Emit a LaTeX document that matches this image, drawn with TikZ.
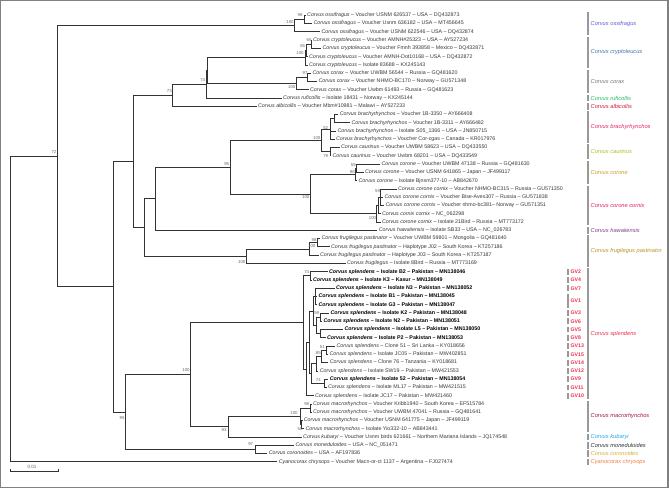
\documentclass[tikz,border=0pt]{standalone}
\usepackage{fontspec}
\setmainfont{Liberation Sans}
\usetikzlibrary{calc}
\definecolor{ossC}{RGB}{96,92,224}
\definecolor{cryC}{RGB}{70,116,176}
\definecolor{corC}{RGB}{120,120,120}
\definecolor{rufC}{RGB}{40,188,100}
\definecolor{albC}{RGB}{208,30,56}
\definecolor{braC}{RGB}{232,36,100}
\definecolor{cauC}{RGB}{160,196,36}
\definecolor{croC}{RGB}{200,160,32}
\definecolor{cxC}{RGB}{232,32,104}
\definecolor{hawC}{RGB}{128,64,144}
\definecolor{fruC}{RGB}{184,150,42}
\definecolor{splC}{RGB}{240,48,74}
\definecolor{macC}{RGB}{160,24,56}
\definecolor{kubC}{RGB}{32,168,232}
\definecolor{monC}{RGB}{48,48,48}
\definecolor{cnoC}{RGB}{216,176,48}
\definecolor{cyaC}{RGB}{240,128,64}
\newcommand\lyy[1]{(15.3+8.27*(#1))}
\newcommand\spn[1]{\textit{#1}}
\newcommand\leafnode[4]{\node[#1] (l#2) at (#3,{\lyy{#2}}) {#4};}
\newcommand\tnode[4]{%
  \coordinate (#1m) at ($(#3)!0.5!(#4)$);
  \coordinate (#1x) at (#2,0);
  \coordinate (#1) at (#1x |- #1m);}
\newcommand\grp[5]{%
  \coordinate (#1t) at (587.7,{\lyy{#2}-3.3});
  \coordinate (#1b) at (587.7,{\lyy{#3}+3.3});
  \draw[gbar] (#1t) -- (#1b);
  \node[glab,text=#4] (#1lab) at ($(#1t)!0.5!(#1b)+(2.8,0)$) {#5};}
\newcommand\gvgrp[4]{%
  \coordinate (#1t) at (568,{\lyy{#2}-2.9});
  \coordinate (#1b) at (568,{\lyy{#3}+2.9});
  \draw[gbar] (#1t) -- (#1b);
  \node[gvlab] (#1lab) at ($(#1t)!0.5!(#1b)+(2.4,0)$) {#4};}
\tikzset{
  leaf/.style={anchor=west, inner xsep=1.3pt, inner ysep=0pt, text height=3.9pt, text depth=1.2pt,
    font=\fontsize{5.3}{6}\selectfont, text=black!78},
  bleaf/.style={leaf, font=\fontsize{5.3}{6}\selectfont\bfseries, text=black},
  br/.style={draw=black!80, line width=0.8pt},
  bs/.style={font=\fontsize{4.3}{5}\selectfont, text=black!60, inner sep=0pt},
  gbar/.style={draw=black!40, line width=2pt},
  glab/.style={anchor=west, inner sep=0pt, font=\fontsize{5.7}{6}\selectfont\itshape},
  gvlab/.style={anchor=west, inner sep=0pt, font=\fontsize{5.2}{6}\selectfont\bfseries, text=splC},
  frame/.style={draw=black!50, line width=1.2pt}
}
\begin{document}
\begin{tikzpicture}[x=1pt,y=-1pt]
\useasboundingbox (0,0) rectangle (669,488);
\fill[white] (0,0) rectangle (669,488);
\draw[frame] (0.6,0.6) rectangle (667.9,487.3);
% leaves
\leafnode{leaf}{0}{305.7}{\spn{Corvus ossifragus} – Voucher USNM 626537 – USA – DQ432873}
\leafnode{leaf}{1}{312}{\spn{Corvus ossifragus} – Voucher Usnm 636182 – USA – MT456645}
\leafnode{leaf}{2}{320}{\spn{Corvus ossifragus} – Voucher USNM 622546 – USA – DQ432874}
\leafnode{leaf}{3}{311.5}{\spn{Corvus cryptoleucus} – Voucher AMNH\#25323 – USA – AY527234}
\leafnode{leaf}{4}{321}{\spn{Corvus cryptoleucus} – Voucher Fmnh 393858 – Mexico – DQ432871}
\leafnode{leaf}{5}{307.5}{\spn{Corvus cryptoleucus} – Voucher AMNH-Dot10168 – USA – DQ432872}
\leafnode{leaf}{6}{307.5}{\spn{Corvus cryptoleucus} – Isolate 83688 – KX245143}
\leafnode{leaf}{7}{311}{\spn{Corvus corax} – Voucher UWBM 56544 – Russia – GQ481620}
\leafnode{leaf}{8}{317}{\spn{Corvus corax} – Voucher NHMO-BC170 – Norway – GU571348}
\leafnode{leaf}{9}{308.5}{\spn{Corvus corax} – Voucher Uwbm 61493 – Russia – GQ481623}
\leafnode{leaf}{10}{281.7}{\spn{Corvus ruficollis} – Isolate 18431 – Norway – KX245144}
\leafnode{leaf}{11}{256.5}{\spn{Corvus albicollis} – Voucher Mbm\#10981 – Malawi – AY527233}
\leafnode{leaf}{12}{338.3}{\spn{Corvus brachyrhynchos} – Voucher 1B-3350 – AY666408}
\leafnode{leaf}{13}{350}{\spn{Corvus brachyrhynchos} – Voucher 1B-3311 – AY666482}
\leafnode{leaf}{14}{336}{\spn{Corvus brachyrhynchos} – Isolate S05\_1366 – USA – JN850715}
\leafnode{leaf}{15}{334.5}{\spn{Corvus brachyrhynchos} – Voucher Cor-cgas – Canada – KR017976}
\leafnode{leaf}{16}{339.5}{\spn{Corvus caurinus} – Voucher UWBM 58623 – USA – DQ433550}
\leafnode{leaf}{17}{331}{\spn{Corvus caurinus} – Voucher Uwbm 68201 – USA – DQ433549}
\leafnode{leaf}{18}{380}{\spn{Corvus corone} – Voucher UWBM 47138 – Russia – GQ481630}
\leafnode{leaf}{19}{363.5}{\spn{Corvus corone} – Voucher USNM 641865 – Japan – JF499117}
\leafnode{leaf}{20}{357}{\spn{Corvus corone} – Isolate Bjnsm377-10 – AB842670}
\leafnode{leaf}{21}{396.5}{\spn{Corvus corone cornix} – Voucher NHMO-BC315 – Russia – GU571350}
\leafnode{leaf}{22}{383}{\spn{Corvus corone cornix} – Voucher Bise-Aves307 – Russia – GU571838}
\leafnode{leaf}{23}{384}{\spn{Corvus corone cornix} – Voucher nhmo-bc381– Norway – GU571351}
\leafnode{leaf}{24}{380.5}{\spn{Corvus cornix cornix} – NC\_062298}
\leafnode{leaf}{25}{380.5}{\spn{Corvus corone cornix} – Isolate 21Bird – Russia – MT773172}
\leafnode{leaf}{26}{377.3}{\spn{Corvus hawaiiensis} – Isolate SB33 – USA – NC\_026783}
\leafnode{leaf}{27}{320}{\spn{Corvus frugilegus pastinator} – Voucher UWBM 59801 – Mongolia – GQ481640}
\leafnode{leaf}{28}{329.5}{\spn{Corvus frugilegus pastinator} – Haplotype J02 – South Korea – KT257186}
\leafnode{leaf}{29}{318.5}{\spn{Corvus frugilegus pastinator} – Haplotype J03 – South Korea – KT257187}
\leafnode{leaf}{30}{345.5}{\spn{Corvus frugilegus} – Isolate 8Bird – Russia – MT773169}
\leafnode{bleaf}{31}{327.5}{\spn{Corvus splendens} – Isolate B2 – Pakistan – MN138046}
\leafnode{bleaf}{32}{311.5}{\spn{Corvus splendens} – Isolate K3 – Kasur – MN138049}
\leafnode{bleaf}{33}{334.5}{\spn{Corvus splendens} – Isolate N3 – Pakistan – MN138052}
\leafnode{bleaf}{34}{317}{\spn{Corvus splendens} – Isolate B1 – Pakistan – MN138045}
\leafnode{bleaf}{35}{317}{\spn{Corvus splendens} – Isolate G3 – Pakistan – MN138047}
\leafnode{bleaf}{36}{329}{\spn{Corvus splendens} – Isolate K2 – Pakistan – MN138048}
\leafnode{bleaf}{37}{322}{\spn{Corvus splendens} – Isolate N2 – Pakistan – MN138051}
\leafnode{bleaf}{38}{343}{\spn{Corvus splendens} – Isolate L5 – Pakistan – MN138050}
\leafnode{bleaf}{39}{325.5}{\spn{Corvus splendens} – Isolate P2 – Pakistan – MN138053}
\leafnode{leaf}{40}{335}{\spn{Corvus splendens} – Clone 51 – Sri Lanka – KY018656}
\leafnode{leaf}{41}{328}{\spn{Corvus splendens} – Isolate JC05 – Pakistan – MW402851}
\leafnode{leaf}{42}{328.3}{\spn{Corvus splendens} – Clone 76 – Tanzania – KY018681}
\leafnode{leaf}{43}{318.3}{\spn{Corvus splendens} – Isolate SW19 – Pakistan – MW421553}
\leafnode{bleaf}{44}{328.3}{\spn{Corvus splendens} – Isolate 52 – Pakistan – MN138054}
\leafnode{leaf}{45}{326.5}{\spn{Corvus splendens} – Isolate ML17 – Pakistan – MW421515}
\leafnode{leaf}{46}{313.5}{\spn{Corvus splendens} – Isolate JC17 – Pakistan – MW421460}
\leafnode{leaf}{47}{311.5}{\spn{Corvus macrorhynchos} – Voucher Kribb1940 – South Korea – EF515784}
\leafnode{leaf}{48}{311.5}{\spn{Corvus macrorhynchos} – Voucher UWBM 47041 – Russia – GQ481641}
\leafnode{leaf}{49}{302.3}{\spn{Corvus macrorhynchos} – Voucher USNM 641775 – Japan – JF499119}
\leafnode{leaf}{50}{304}{\spn{Corvus macrorhynchos} – Isolate Yio332-10 – AB843441}
\leafnode{leaf}{51}{301.7}{\spn{Corvus kubaryi} – Voucher Usnm birds 621661 – Northern Mariana Islands – JQ174548}
\leafnode{leaf}{52}{294}{\spn{Corvus moneduloides} – USA – NC\_051471}
\leafnode{leaf}{53}{267.3}{\spn{Corvus coronoides} – USA – AF197836}
\leafnode{leaf}{54}{277.3}{\spn{Cyanocorax chrysops} – Voucher Macn-or-ct 1137 – Argentina – FJ027474}
% internal nodes
\tnode{nO2}{304}{l0.west}{l1.west}
\tnode{nO1}{294.3}{nO2}{l2.west}
\tnode{nC3}{311}{l3.west}{l4.west}
\tnode{nC2}{306.5}{nC3}{l5.west}
\tnode{nC1}{305.7}{nC2}{l6.west}
\tnode{nK2}{307.7}{l7.west}{l8.west}
\tnode{nK1}{296.7}{nK2}{l9.west}
\tnode{nCK}{207.5}{nC1}{nK1}
\tnode{nR}{206.7}{nCK}{l10.west}
\tnode{nA}{172.3}{nR}{l11.west}
\tnode{nB2}{334}{l12.west}{l13.west}
\tnode{nB1}{330}{nB2}{l15.west}
\tnode{nCa}{330}{l16.west}{l17.west}
\tnode{nBC}{321}{nB1}{nCa}
\tnode{nCo2}{356.7}{l18.west}{l19.west}
\tnode{nCo1}{355}{nCo2}{l20.west}
\tnode{nCx2}{380}{l21.west}{l23.west}
\tnode{nCxB}{378.5}{nCx2}{l24.west}
\tnode{nCx1}{376.7}{nCxB}{l25.west}
\tnode{nCC}{310.5}{nCo1}{nCx1}
\tnode{nNF}{230}{nBC}{nCC}
\tnode{nH}{155.7}{nNF}{l26.west}
\tnode{nF3}{317.7}{l27.west}{l28.west}
\tnode{nF2}{309}{nF3}{l29.west}
\tnode{nF1}{246.7}{nF2}{l30.west}
\tnode{nHF}{144.3}{nH}{nF1}
\tnode{nAH}{133.3}{nA}{nHF}
\tnode{nS74}{310}{l31.west}{l32.west}
\tnode{nS4}{315}{l33.west}{l35.west}
\tnode{nS59}{320.7}{l36.west}{l37.west}
\tnode{nSLP}{320.7}{l38.west}{l39.west}
\tnode{nS5}{316.5}{nS59}{nSLP}
\tnode{nS3}{313.5}{nS4}{nS5}
\tnode{nS51}{326}{l40.west}{l41.west}
\tnode{nS85}{321.7}{nS51}{l42.west}
\tnode{nS7}{316}{nS85}{l43.west}
\tnode{nS74b}{324.3}{l44.west}{l45.west}
\tnode{nS6}{311.5}{nS7}{nS74b}
\tnode{nS2}{309}{nS3}{nS6}
\tnode{nS1}{306.5}{nS2}{l46.west}
\tnode{nS0}{303.3}{nS74}{nS1}
\tnode{nM98}{310.7}{l47.west}{l48.west}
\tnode{nM50}{301.7}{l49.west}{l50.west}
\tnode{nM100}{300}{nM98}{nM50}
\tnode{nM93}{228.3}{nM100}{l51.west}
\tnode{nSM}{190}{nS0}{nM93}
\tnode{nMo}{255}{l52.west}{l53.west}
\tnode{nSMM}{125.3}{nSM}{nMo}
\tnode{nBig}{113.3}{nAH}{nSMM}
\tnode{nT}{57.3}{nO1}{nBig}
\tnode{nRoot}{10}{nT}{l54.west}
% branches
\foreach \p/\c in {nO2/l0.west, nO2/l1.west, nO1/nO2, nO1/l2.west,
  nC3/l3.west, nC3/l4.west, nC2/nC3, nC2/l5.west, nC1/nC2, nC1/l6.west,
  nK2/l7.west, nK2/l8.west, nK1/nK2, nK1/l9.west,
  nCK/nC1, nCK/nK1, nR/nCK, nR/l10.west, nA/nR, nA/l11.west,
  nB2/l12.west, nB2/l13.west, nB1/nB2, nB1/l14.west, nB1/l15.west,
  nCa/l16.west, nCa/l17.west, nBC/nB1, nBC/nCa,
  nCo2/l18.west, nCo2/l19.west, nCo1/nCo2, nCo1/l20.west,
  nCx2/l21.west, nCx2/l22.west, nCx2/l23.west, nCxB/nCx2, nCxB/l24.west, nCx1/nCxB, nCx1/l25.west,
  nCC/nCo1, nCC/nCx1, nNF/nBC, nNF/nCC, nH/nNF, nH/l26.west,
  nF3/l27.west, nF3/l28.west, nF2/nF3, nF2/l29.west, nF1/nF2, nF1/l30.west,
  nHF/nH, nHF/nF1, nAH/nA, nAH/nHF,
  nS74/l31.west, nS74/l32.west, nS4/l33.west, nS4/l34.west, nS4/l35.west,
  nS59/l36.west, nS59/l37.west, nSLP/l38.west, nSLP/l39.west, nS5/nS59, nS5/nSLP, nS3/nS4, nS3/nS5,
  nS51/l40.west, nS51/l41.west, nS85/nS51, nS85/l42.west, nS7/nS85, nS7/l43.west,
  nS74b/l44.west, nS74b/l45.west, nS6/nS7, nS6/nS74b, nS2/nS3, nS2/nS6, nS1/nS2, nS1/l46.west,
  nS0/nS74, nS0/nS1,
  nM98/l47.west, nM98/l48.west, nM50/l49.west, nM50/l50.west, nM100/nM98, nM100/nM50,
  nM93/nM100, nM93/l51.west,
  nSM/nS0, nSM/nM93, nMo/l52.west, nMo/l53.west, nSMM/nSM, nSMM/nMo,
  nBig/nAH, nBig/nSMM, nT/nO1, nT/nBig, nRoot/nT, nRoot/l54.west}
  {\draw[br] (\p) |- (\c);}
% bootstrap values
\foreach \bx/\by/\bv [count=\k] in {300/15.3/98, 290/21.7/100, 309/40/65, 302.7/46/65, 300/53.3/100,
  305/72.7/97, 291.7/87.3/100, 202.7/80/73, 169.3/90.7/73, 54/152/72,
  325.7/128.3/52, 316.7/138/100, 325.7/156.3/79, 226.7/164/95, 353.3/165.3/59, 352.3/172.3/98,
  305.7/197.3/100, 377.5/191/59, 372.5/218/100, 314/240/98, 311.7/246/100, 241.7/261.7/100,
  306.7/272.3/74, 316.7/313.3/59, 322.3/346.7/51, 318.3/353.3/85, 318.3/380/74, 186/370/100,
  306.7/404.3/98, 294/413.3/100, 300/428.7/50, 224/430/93, 250.7/444.3/97, 122/418/95}
  {\node[bs] (bs\k) at (\bx,\by) {\bv};}
% species groups
\grp{gOss}{0}{2}{ossC}{Corvus ossifragus}
\grp{gCry}{3}{6}{cryC}{Corvus cryptoleucus}
\grp{gCor}{7}{9}{corC}{Corvus corax}
\grp{gRuf}{10}{10}{rufC}{Corvus ruficollis}
\grp{gAlb}{11}{11}{albC}{Corvus albicollis}
\grp{gBra}{12}{15}{braC}{Corvus brachyrhynchos}
\grp{gCau}{16}{17}{cauC}{Corvus caurinus}
\grp{gCro}{18}{20}{croC}{Corvus corone}
\grp{gCx}{21}{25}{cxC}{Corvus corone cornix}
\grp{gHaw}{26}{26}{hawC}{Corvus hawaiiensis}
\grp{gFru}{27}{30}{fruC}{Corvus frugilegus pastinator}
\grp{gSpl}{31}{46}{splC}{Corvus splendens}
\grp{gMac}{47}{50}{macC}{Corvus macrorhynchos}
\grp{gKub}{51}{51}{kubC}{Corvus kubaryi}
\grp{gMon}{52}{52}{monC}{Corvus moneduloides}
\grp{gCno}{53}{53}{cnoC}{Corvus coronoides}
\grp{gCya}{54}{54}{cyaC}{Cyanocorax chrysops}
% GV groups
\gvgrp{v2}{31}{31}{GV2}
\gvgrp{v4}{32}{32}{GV4}
\gvgrp{v7}{33}{33}{GV7}
\gvgrp{v1}{34}{35}{GV1}
\gvgrp{v3}{36}{36}{GV3}
\gvgrp{v6}{37}{37}{GV6}
\gvgrp{v5}{38}{38}{GV5}
\gvgrp{v8}{39}{39}{GV8}
\gvgrp{v13}{40}{40}{GV13}
\gvgrp{v15}{41}{41}{GV15}
\gvgrp{v14}{42}{42}{GV14}
\gvgrp{v12}{43}{43}{GV12}
\gvgrp{v9}{44}{44}{GV9}
\gvgrp{v11}{45}{45}{GV11}
\gvgrp{v10}{46}{46}{GV10}
% scale bar
\coordinate (sbA) at (10,471.5);
\coordinate (sbB) at (58,471.5);
\draw[br, line width=0.7pt] ($(sbA)+(0,-2.5)$) -- (sbA) -- (sbB) -- ($(sbB)+(0,-2.5)$);
\node[bs, font=\fontsize{4.6}{5}\selectfont] (sbLab) at (32,467.3) {0.01};
\end{tikzpicture}
\end{document}
